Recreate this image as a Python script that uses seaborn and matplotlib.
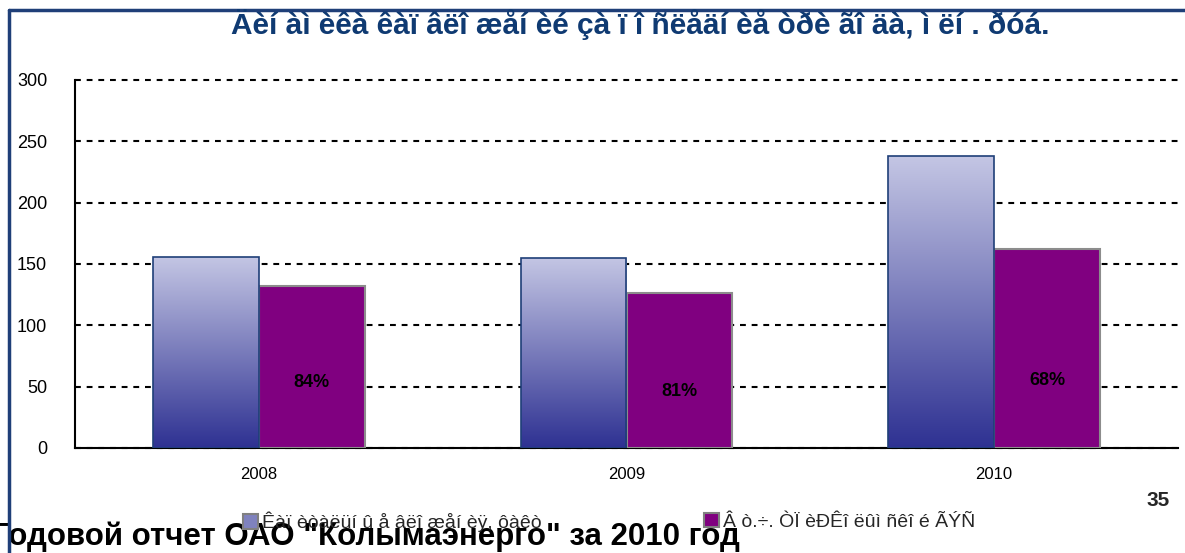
import numpy as np
import pandas as pd
import seaborn as sns
import matplotlib.pyplot as plt
from matplotlib.patches import Patch
from matplotlib.lines import Line2D

# data
years = ["2008", "2009", "2010"]
capex_fact = [156, 155, 238]
tpir_kolyma = [132, 126, 162]
tpir_share = ["84%", "81%", "68%"]
series_names = [
    "Êàï èòàëüí û å âëî æåí èÿ, ôàêò",
    "Â ò.÷. ÒÏ èÐÊî ëûì ñêî é ÃÝÑ",
]
title = "Äèí àì èêà êàï âëî æåí èé çà ï î ñëåäí èå òðè ãî äà, ì ëí . ðóá."
footer = "Годовой отчет ОАО \"Колымаэнерго\" за 2010 год"
page_no = "35"

df = pd.DataFrame(
    {
        "year": years * 2,
        "value": capex_fact + tpir_kolyma,
        "series": [series_names[0]] * 3 + [series_names[1]] * 3,
    }
)

sns.set_style("white")
plt.rcParams["font.family"] = ["Liberation Sans", "DejaVu Sans"]

W, H = 1185, 553
fig = plt.figure(figsize=(W / 100, H / 100), dpi=100)
ax = fig.add_axes([75 / W, 1 - 448 / H, 1103 / W, 368 / H])

navy = "#1F3F78"
purple = "#800080"
sns.barplot(
    data=df, x="year", y="value", hue="series",
    palette=["#8A8DC4", purple], width=0.575, ax=ax, legend=False,
    saturation=1, zorder=3,
)

# gradient fill for the first series, grey edge for the second
grad = np.linspace(0, 1, 256)[:, None]
top = np.array([196, 198, 228]) / 255
bot = np.array([46, 49, 146]) / 255
img = top[None, None, :] * (1 - grad[:, :, None]) + bot[None, None, :] * grad[:, :, None]
for i, p in enumerate(ax.patches):
    if i < 3:
        x0, y0 = p.get_x(), p.get_y()
        x1, y1 = x0 + p.get_width(), y0 + p.get_height()
        p.set_facecolor("none")
        p.set_edgecolor(navy)
        p.set_linewidth(1.2)
        p.set_zorder(4)
        im = ax.imshow(img, extent=[x0, x1, y0, y1], aspect="auto", zorder=3,
                       interpolation="bilinear")
        im.set_clip_path(p)
    else:
        p.set_edgecolor("#8C8C8C")
        p.set_linewidth(1.5)
ax.set_xlim(-0.5, 2.5)
ax.set_ylim(0, 300)
ax.set_aspect("auto")

# percentage labels inside purple bars
label_y = [53, 46, 55]
for i, txt in enumerate(tpir_share):
    ax.text(i + 0.575 / 4, label_y[i], txt, ha="center", va="center",
            fontsize=13, fontweight="bold", color="black", zorder=6)

ax.set_yticks([0, 50, 100, 150, 200, 250, 300])
ax.yaxis.grid(True, color="black", linestyle=(0, (2.8, 2.8)), linewidth=1.5)
for gl in ax.get_ygridlines():
    gl.set_clip_on(False)
ax.set_axisbelow(True)
ax.tick_params(axis="both", length=0, labelsize=13, colors="black")
ax.tick_params(axis="y", pad=20)
ax.tick_params(axis="x", pad=14, labelsize=12)
ax.set_xlabel("")
ax.set_ylabel("")
for s in ["top", "right"]:
    ax.spines[s].set_visible(False)
for s in ["left", "bottom"]:
    ax.spines[s].set_color("black")
    ax.spines[s].set_linewidth(1.5)

# frame lines of the slide
fig.add_artist(Line2D([9 / W, 1], [1 - 10 / H] * 2, color=navy, lw=2.5))
fig.add_artist(Line2D([9 / W, 9 / W], [1 - 10 / H, 0], color=navy, lw=2.5))

fig.text(640 / W, 1 - 25 / H, title, ha="center", va="center", fontsize=21.5,
         fontweight="bold", color="#0F3A72")

fig.text(-8 / W, 8 / H, footer, ha="left", va="baseline", fontsize=22.5,
         fontweight="bold", color="black", zorder=1)
fig.text(1158 / W, 1 - 500 / H, page_no, ha="center", va="center",
         fontsize=15, fontweight="bold")

h1 = Patch(facecolor="#7F82BE", edgecolor="#808080", lw=1.5)
h2 = Patch(facecolor=purple, edgecolor="#808080", lw=1.5)
leg1 = fig.legend([h1], [series_names[0]], loc="center left",
                  bbox_to_anchor=(243 / W, 1 - 522 / H), frameon=False,
                  fontsize=14, handlelength=0.75, handleheight=0.75,
                  handletextpad=0.25, borderaxespad=0, borderpad=0)
leg1.set_zorder(5)
leg2 = fig.legend([h2], [series_names[1]], loc="center left",
                  bbox_to_anchor=(704 / W, 1 - 522 / H), frameon=False,
                  fontsize=14, handlelength=0.75, handleheight=0.75,
                  handletextpad=0.25, borderaxespad=0, borderpad=0)
leg2.set_zorder(5)

fig.savefig("out.png", dpi=100)
